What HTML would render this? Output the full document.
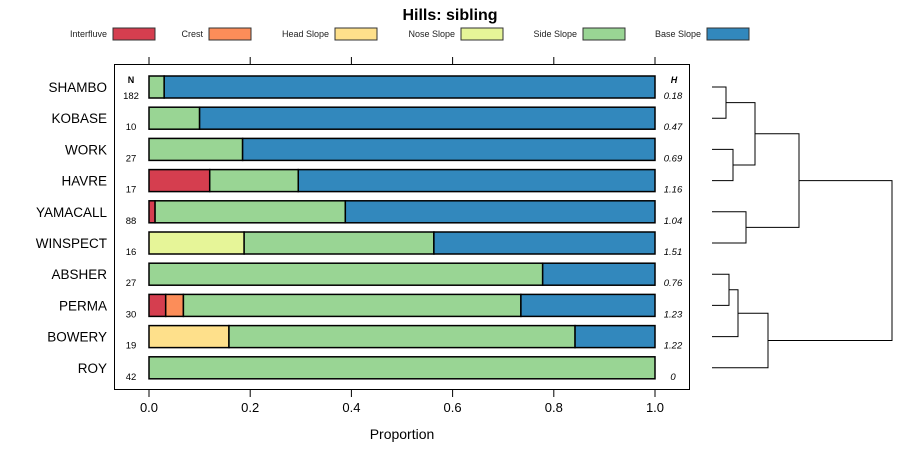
<!DOCTYPE html>
<html><head><meta charset="utf-8"><style>
body{margin:0;background:#fff}
svg{display:block;font-family:"Liberation Sans",sans-serif}
</style></head><body>
<svg id="c" width="900" height="460"></svg>
<script>
const names=["SHAMBO","KOBASE","WORK","HAVRE","YAMACALL","WINSPECT","ABSHER","PERMA","BOWERY","ROY"];
const nVals=[182,10,27,17,88,16,27,30,19,42];
const hVals=["0.18","0.47","0.69","1.16","1.04","1.51","0.76","1.23","1.22","0"];
const classes=["Interfluve","Crest","Head Slope","Nose Slope","Side Slope","Base Slope"];
const colors=["#D53E4F","#FC8D59","#FEE08B","#E6F598","#99D594","#3288BD"];
const interfluve=[0,0,0,0.12,0.012,0,0,0.033,0,0];
const crest=[0,0,0,0,0,0,0,0.035,0,0];
const headSlope=[0,0,0,0,0,0,0,0,0.158,0];
const noseSlope=[0,0,0,0,0,0.188,0,0,0,0];
const sideSlope=[0.03,0.10,0.185,0.175,0.376,0.375,0.778,0.667,0.684,1];
const baseSlope=[0.97,0.90,0.815,0.705,0.612,0.437,0.222,0.265,0.158,0];
const xTicks=[0,0.2,0.4,0.6,0.8,1.0];
const series=[interfluve,crest,headSlope,noseSlope,sideSlope,baseSlope];
const svgEl=document.getElementById('c');
const NS="http://www.w3.org/2000/svg";
function mk(t,a,p){const e=document.createElementNS(NS,t);for(const k in a)e.setAttribute(k,a[k]);(p||svgEl).appendChild(e);return e;}
const X=v=>149+v*506;
const Y=i=>87+i*31.2;
let t=mk('text',{x:450,y:20,'text-anchor':'middle','font-size':16,'font-weight':'bold'});t.textContent="Hills: sibling";


const legX=[113,209,335,461,583,707];
classes.forEach((c,i)=>{
 const g=mk('g',{});
 
 
 const tt=mk('text',{x:legX[i]-6,y:37,'text-anchor':'end','font-size':9,fill:'#222'},g);tt.textContent=c;
 mk('rect',{x:legX[i],y:28,width:42,height:12,fill:colors[i],stroke:'#333','stroke-width':1},g);
});
const pb=mk('rect',{x:114.5,y:64.5,width:575,height:325,fill:'none',stroke:'#000'});


xTicks.forEach(v=>{
 mk('line',{x1:X(v),x2:X(v),y1:57,y2:64,stroke:'#000'});
 mk('line',{x1:X(v),x2:X(v),y1:390,y2:397,stroke:'#000'});
 const l=mk('text',{x:X(v),y:412,'text-anchor':'middle','font-size':13});l.textContent=v.toFixed(1);
 
 
});
t=mk('text',{x:402,y:439,'text-anchor':'middle','font-size':14});t.textContent="Proportion";


t=mk('text',{x:131,y:83,'text-anchor':'middle','font-size':9,'font-weight':'bold'});t.textContent="N";
t=mk('text',{x:674,y:83,'text-anchor':'middle','font-size':9,'font-weight':'bold','font-style':'italic'});t.textContent="H";
names.forEach((n,i)=>{
 const y=Y(i);
 const lab=mk('text',{x:107,y:y+5,'text-anchor':'end','font-size':13.5});lab.textContent=n;
 
 
 const nt=mk('text',{x:131,y:y+12,'text-anchor':'middle','font-size':9.5});nt.textContent=nVals[i];
 const ht=mk('text',{x:673,y:y+12,'text-anchor':'middle','font-size':9.5,'font-style':'italic'});ht.textContent=hVals[i];
 let cum=0;
 series.forEach((s,k)=>{
  const v=s[i];if(v<=0)return;
  const r=mk('rect',{x:X(cum),y:y-11,width:X(cum+v)-X(cum),height:22,fill:colors[k],stroke:'#000','stroke-width':1.5});
  
  
  cum+=v;
 });
});
function drawDendro(){
 const leafX=712;
 function seg(a,b,h){
  const p=mk('path',{d:`M${a[0]} ${a[1]}H${h}V${b[1]}H${b[0]}`,fill:'none',stroke:'#000','stroke-width':1});
  
  
  return [h,(a[1]+b[1])/2];
 }
 const L=names.map((n,i)=>[leafX,Y(i)]);
 const a=seg(L[0],L[1],726), b=seg(L[2],L[3],733), ab=seg(a,b,755);
 const c=seg(L[4],L[5],746), upper=seg(ab,c,799);
 const d=seg(L[6],L[7],729), e=seg(d,L[8],738), f=seg(e,L[9],768);
 seg(upper,f,892);
}
drawDendro();
</script>
</body></html>
